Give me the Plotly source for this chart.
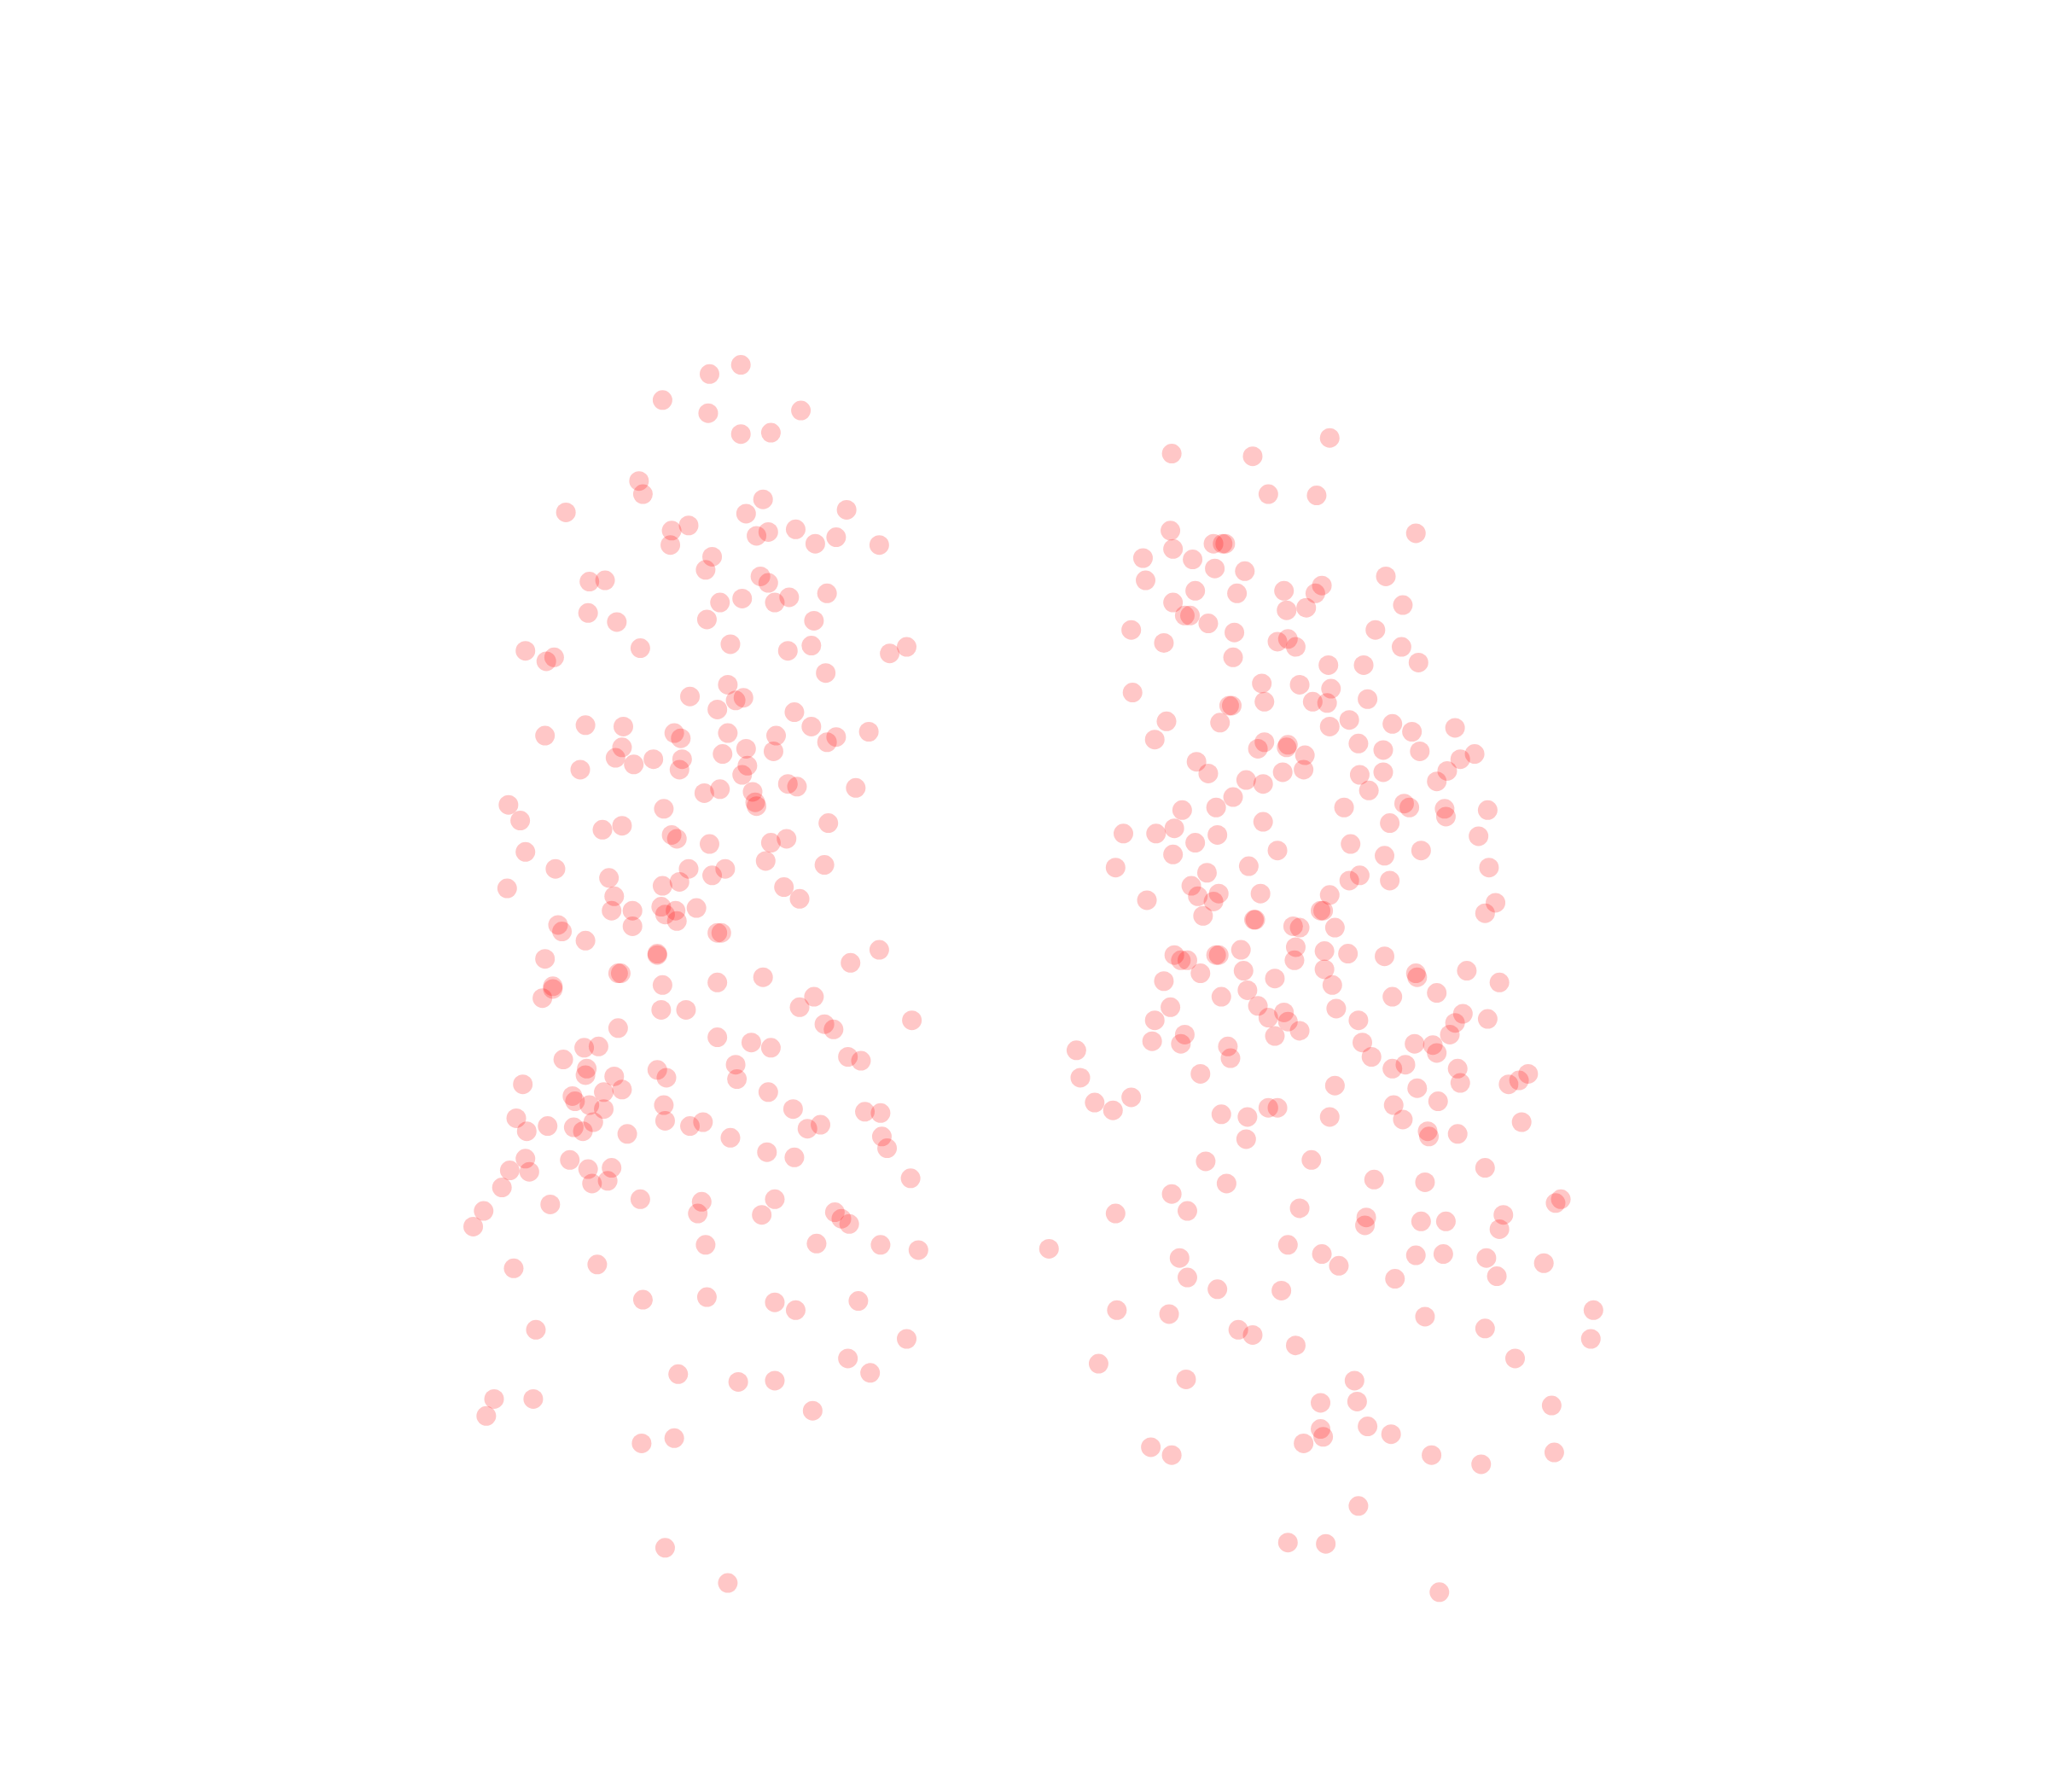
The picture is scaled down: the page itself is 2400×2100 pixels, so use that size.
import plotly.graph_objects as go

left_x = [567,543,507,542,613,567,590,489,492,584,433,571,648,514,527,588,579,609,513,624,640,673,545,540,582,588,451,463,633,604,568,551,593,450,472,541,623,402,418,424,490,559,603,621,681,694,632,557,528,563,569,549,608,448,477,417,516,521,557,621,594,640,633,665,476,471,571,592,553,522,500,485,444,520,572,568,603,610,655,551,539,576,578,579,389,398,508,461,476,634,514,518,543,590,602,402,425,586,631,527,555,545,466,520,507,388,600,612,470,468,484,506,517,533,509,518,484,427,430,448,549,552,673,503,503,417,651,473,475,584,549,507,423,423,415,623,612,506,525,698,631,638,473,549,575,590,447,458,431,649,659,563,503,449,448,470,510,564,400,462,476,588,438,440,451,462,508,607,662,674,395,454,509,538,528,419,439,446,403,480,628,618,559,675,679,587,608,402,436,390,405,450,468,384,465,453,697,490,537,593,421,370,534,583,639,644,650,362,540,625,674,703,393,457,492,541,593,609,657,410,694,649,666,519,565,593,378,408,372,622,491,516,509,557]
left_y = [279,286,306,316,314,332,331,368,378,382,392,393,390,406,402,407,410,405,417,416,411,417,426,436,441,446,445,444,454,457,458,461,461,469,476,474,475,498,506,503,496,493,498,494,500,495,515,524,533,536,534,543,545,555,556,563,561,565,561,556,563,564,568,560,572,580,573,575,577,581,581,585,589,589,586,593,600,602,603,604,607,606,614,617,616,628,619,635,632,630,639,642,646,645,642,652,665,659,662,665,665,670,672,675,678,680,679,688,686,697,697,694,697,695,700,705,709,708,713,720,714,714,727,730,731,734,737,745,745,748,752,754,755,757,764,763,771,773,773,781,784,788,787,794,798,802,802,801,811,809,812,815,819,818,823,824,825,826,830,836,834,836,839,843,846,849,846,849,851,852,856,859,858,859,862,862,863,866,866,868,861,864,871,870,879,882,886,887,888,896,897,895,894,909,904,906,902,918,920,918,922,927,929,930,928,933,937,939,953,952,953,957,971,968,995,993,997,1003,996,1018,1025,1040,1051,1052,1058,1057,1071,1071,1084,1080,1105,1101,1185,1212]
right_x = [1018,897,959,971,1008,896,1084,898,929,936,938,875,913,930,953,877,1061,1012,915,947,983,1007,898,907,911,985,1000,1074,925,866,945,1053,891,978,986,992,1073,944,1017,1044,1086,867,966,995,1019,941,943,968,1005,1016,1047,893,934,1033,1018,1066,1081,1114,884,968,963,985,986,1040,1059,1087,1129,1118,916,999,1108,925,982,998,1041,1059,1100,954,967,1048,944,931,905,1029,1075,1079,1106,1107,1139,967,1064,860,885,899,932,1132,915,1034,978,898,1060,1088,854,956,1140,924,1041,1033,1064,912,917,933,965,1018,878,929,1145,1137,921,960,961,1011,1013,990,995,1022,992,950,1014,1032,899,904,909,931,933,991,1060,919,952,1014,1084,1085,1123,891,976,1020,1148,955,935,1066,1100,896,963,1023,983,971,986,884,1040,1120,1139,1114,1110,976,995,882,907,904,940,1043,1083,1097,1100,824,942,1050,1076,1066,1116,919,827,1118,1155,1163,1170,1022,1085,866,838,852,1101,1067,971,978,935,955,1018,1074,1165,1093,1094,1116,954,923,1004,1137,1052,1091,939,897,1191,1195,909,995,854,1151,1046,1045,1088,1107,1148,803,986,1012,1084,1105,1138,903,1025,1182,909,1068,1146,932,981,1220,855,895,1091,948,959,1137,1218,992,841,1160,908,1037,1011,1039,1188,1047,1011,1013,1065,998,881,897,1096,1190,1134,1040,986,1015,1102]
right_y = [335,347,349,378,379,406,408,420,416,416,416,427,428,435,437,444,441,448,452,454,452,454,461,471,471,467,465,463,477,482,484,482,492,491,489,495,495,503,509,509,507,530,523,524,527,540,540,537,537,538,535,552,553,551,556,554,560,557,566,568,573,572,570,569,574,575,577,581,583,578,590,592,591,589,593,591,598,597,600,605,610,618,620,618,615,618,619,625,620,629,630,638,638,634,639,640,645,646,651,654,655,651,664,663,664,668,670,674,674,678,686,684,684,685,689,690,691,699,701,704,704,697,697,709,710,710,725,727,728,730,731,735,735,731,731,735,732,745,743,742,745,748,743,751,749,754,752,758,763,763,760,771,770,772,775,779,782,781,781,776,780,783,792,793,789,797,792,799,801,798,799,800,806,804,810,809,815,818,818,822,825,829,830,827,822,831,833,840,844,850,843,846,848,848,853,855,855,857,859,866,870,868,872,889,888,894,903,905,906,914,921,918,927,925,929,930,932,938,935,935,941,956,953,960,961,960,963,963,969,967,978,979,977,987,988,1003,1003,1006,1008,1018,1022,1017,1025,1030,1044,1040,1056,1057,1074,1073,1076,1092,1094,1100,1098,1105,1108,1114,1114,1112,1121,1153,1181,1182,1219]

marker_style = dict(size=23, color="rgba(255,0,0,0.22)", line=dict(width=0))

fig = go.Figure()
fig.add_trace(go.Scatter(x=left_x, y=left_y, mode="markers", marker=marker_style, showlegend=False, cliponaxis=False))
fig.add_trace(go.Scatter(x=right_x, y=right_y, mode="markers", marker=marker_style, showlegend=False, cliponaxis=False))
fig.update_layout(
    width=2400, height=2100, autosize=False,
    margin=dict(l=0, r=0, t=0, b=0),
    paper_bgcolor="white", plot_bgcolor="white",
    xaxis=dict(range=[4.8, 1573.37], visible=False, fixedrange=True),
    yaxis=dict(range=[1377.27, 4.8], visible=False, fixedrange=True),
)
fig.write_html("out.html", config={"displayModeBar": False})
